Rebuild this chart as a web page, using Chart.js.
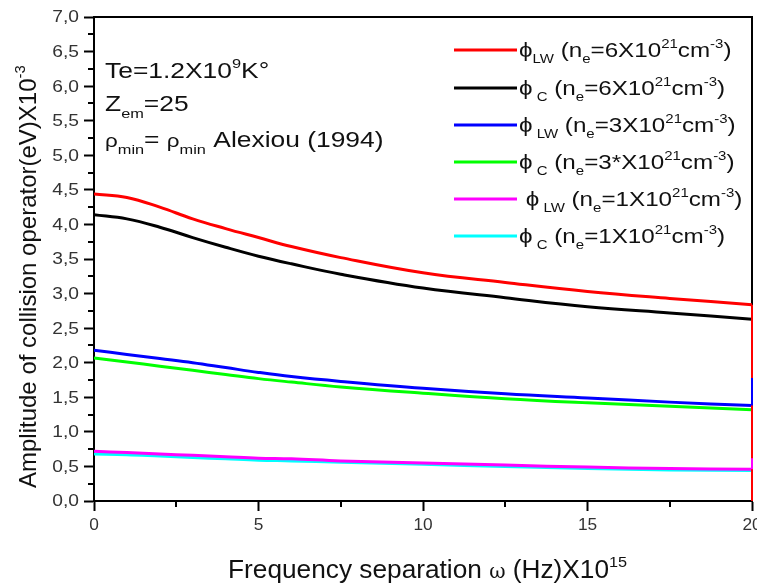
<!DOCTYPE html>
<html>
<head>
<meta charset="utf-8">
<script src="https://cdn.jsdelivr.net/npm/chart.js@4/dist/chart.umd.min.js"></script>
<style>
    html, body { margin: 0; padding: 0; background: #fff; }
    #wrap { width: 757px; height: 588px; }
</style>
</head>
<body>
<div id="wrap"><canvas id="chart" width="757" height="588"></canvas></div>
<script>
// Frequency separation (x10^15 Hz)
const omega = [0, 1, 2, 3, 4, 5, 6, 7.5, 10, 12.5, 15, 17.5, 20];

// Amplitudes (eV x10^-3)
const phiLW6 = [4.44, 4.39, 4.25, 4.08, 3.94, 3.81, 3.68, 3.52, 3.30, 3.16, 3.03, 2.93, 2.84];
const phiC6  = [4.14, 4.08, 3.96, 3.81, 3.67, 3.54, 3.43, 3.28, 3.08, 2.94, 2.81, 2.72, 2.63];
const phiLW3 = [2.18, 2.12, 2.06, 2.00, 1.93, 1.86, 1.80, 1.73, 1.63, 1.55, 1.49, 1.43, 1.38];
const phiC3  = [2.07, 2.01, 1.95, 1.89, 1.83, 1.77, 1.72, 1.65, 1.56, 1.48, 1.42, 1.37, 1.32];
const phiLW1 = [0.72, 0.70, 0.68, 0.66, 0.64, 0.62, 0.61, 0.58, 0.55, 0.52, 0.49, 0.47, 0.46];
const phiC1  = [0.68, 0.67, 0.65, 0.63, 0.61, 0.59, 0.58, 0.56, 0.53, 0.50, 0.47, 0.45, 0.44];

// the last sample at omega = 20 jumps (vertical segment on the right edge)
const edgeValue = [0, null, 1.78, null, 0.62, null];

const seriesColors = ['#ff0000', '#000000', '#0000ff', '#00ff00', '#ff00ff', '#00ffff'];
const yTicks = [0, 0.5, 1, 1.5, 2, 2.5, 3, 3.5, 4, 4.5, 5, 5.5, 6, 6.5, 7];
const xTicks = [0, 5, 10, 15, 20];

const FONT = '"Liberation Sans", Arial, sans-serif';
const TEXT = '#111';

// text runs: [text, 'n' | 'sub' | 'sup', sizeFactor?, font?]
const legendRuns = [
    [['\u03d5', 'n'], ['LW', 'sub'], [' (n', 'n'], ['e', 'sub'], ['=6X10', 'n'], ['21', 'sup'], ['cm', 'n'], ['-3', 'sup'], [')', 'n']],
    [['\u03d5', 'n'], [' C', 'sub'], [' (n', 'n'], ['e', 'sub'], ['=6X10', 'n'], ['21', 'sup'], ['cm', 'n'], ['-3', 'sup'], [')', 'n']],
    [['\u03d5', 'n'], [' LW', 'sub'], [' (n', 'n'], ['e', 'sub'], ['=3X10', 'n'], ['21', 'sup'], ['cm', 'n'], ['-3', 'sup'], [')', 'n']],
    [['\u03d5', 'n'], [' C', 'sub'], [' (n', 'n'], ['e', 'sub'], ['=3*X10', 'n'], ['21', 'sup'], ['cm', 'n'], ['-3', 'sup'], [')', 'n']],
    [[' \u03d5', 'n'], [' LW', 'sub'], [' (n', 'n'], ['e', 'sub'], ['=1X10', 'n'], ['21', 'sup'], ['cm', 'n'], ['-3', 'sup'], [')', 'n']],
    [['\u03d5', 'n'], [' C', 'sub'], [' (n', 'n'], ['e', 'sub'], ['=1X10', 'n'], ['21', 'sup'], ['cm', 'n'], ['-3', 'sup'], [')', 'n']]
];
const seriesLabels = ['phiLW 6e21', 'phiC 6e21', 'phiLW 3e21', 'phiC 3e21', 'phiLW 1e21', 'phiC 1e21'];

const noteRuns = [
    [['Te=1.2X10', 'n'], ['9', 'sup'], ['K\u00b0', 'n']],
    [['Z', 'n'], ['em', 'sub'], ['=25', 'n']],
    [['\u03c1', 'n', 0.85], ['min', 'sub'], ['= ', 'n'], ['\u03c1', 'n', 0.85], ['min', 'sub'], [' Alexiou (1994)', 'n']]
];

/**
 * Draw a run of text with subscripts / superscripts.
 * sx stretches the text horizontally; returns the end x.
 */
function drawRuns(ctx, runs, x, y, size, sx, color) {
    ctx.save();
    ctx.translate(x, y);
    ctx.scale(sx, 1);
    ctx.fillStyle = color;
    ctx.textBaseline = 'alphabetic';
    ctx.textAlign = 'left';
    let cx = 0;
    runs.forEach(r => {
        const mode = r[1];
        let s = size * (r[2] || 1);
        let dy = 0;
        if (mode === 'sub') { s = size * 0.62; dy = size * 0.32; }
        if (mode === 'sup') { s = size * 0.62; dy = -size * 0.45; }
        ctx.font = s + 'px ' + (r[3] || FONT);
        ctx.fillText(r[0], cx, dy);
        cx += ctx.measureText(r[0]).width;
    });
    ctx.restore();
    return x + cx * sx;
}

function drawLabel(ctx, text, x, y, size, sx, align) {
    ctx.save();
    ctx.font = size + 'px ' + FONT;
    const w = ctx.measureText(text).width * sx;
    let left = x;
    if (align === 'right') left = x - w;
    if (align === 'center') left = x - w / 2;
    ctx.translate(left, y);
    ctx.scale(sx, 1);
    ctx.fillStyle = '#333';
    ctx.textBaseline = 'middle';
    ctx.fillText(text, 0, 0);
    ctx.restore();
}

const allValues = [phiLW6, phiC6, phiLW3, phiC3, phiLW1, phiC1];

const datasets = allValues.map((vals, i) => ({
    label: seriesLabels[i],
    data: omega.map((w, k) => ({ x: w, y: vals[k] })),
    borderColor: seriesColors[i],
    borderWidth: 3,
    pointRadius: 0,
    tension: 0.4,
    fill: false
}));

const decorations = {
    id: 'decorations',
    beforeDatasetsDraw(chart) {
        const ctx = chart.ctx;
        const a = chart.chartArea;
        const xs = chart.scales.x, ys = chart.scales.y;
        ctx.save();
        ctx.strokeStyle = '#000';
        ctx.lineWidth = 2;
        // top and right frame
        ctx.beginPath();
        ctx.moveTo(a.left - 1, a.top);
        ctx.lineTo(a.right, a.top);
        ctx.lineTo(a.right, a.bottom);
        ctx.stroke();
        // minor ticks
        ctx.beginPath();
        for (let v = 0.25; v < 7; v += 0.5) {
            const py = Math.round(ys.getPixelForValue(v));
            ctx.moveTo(a.left, py);
            ctx.lineTo(a.left - 6, py);
        }
        for (let v = 2.5; v < 20; v += 5) {
            const px = Math.round(xs.getPixelForValue(v));
            ctx.moveTo(px, a.bottom);
            ctx.lineTo(px, a.bottom + 6);
        }
        ctx.stroke();
        ctx.restore();

        // tick labels
        yTicks.forEach(v => {
            drawLabel(ctx, v.toFixed(1).replace('.', ','), 79, ys.getPixelForValue(v) + 1, 16, 1.2, 'right');
        });
        xTicks.forEach(v => {
            drawLabel(ctx, String(v), xs.getPixelForValue(v), 526, 16, 1.08, 'center');
        });
    },
    afterDatasetsDraw(chart) {
        // vertical jumps of the last sample on the right edge
        const ctx = chart.ctx;
        const xs = chart.scales.x, ys = chart.scales.y;
        const last = omega[omega.length - 1];
        ctx.save();
        ctx.lineWidth = 2;
        allValues.forEach((vals, i) => {
            if (edgeValue[i] === null) return;
            const px = xs.getPixelForValue(last);
            ctx.strokeStyle = seriesColors[i];
            ctx.beginPath();
            ctx.moveTo(px, ys.getPixelForValue(vals[vals.length - 1]));
            ctx.lineTo(px, ys.getPixelForValue(edgeValue[i]));
            ctx.stroke();
        });
        ctx.restore();
    },
    afterDraw(chart) {
        const ctx = chart.ctx;
        // legend
        const rowY = [50, 88, 125, 162, 199, 236];
        rowY.forEach((y, i) => {
            ctx.save();
            ctx.strokeStyle = seriesColors[i];
            ctx.lineWidth = 3;
            ctx.beginPath();
            ctx.moveTo(454, y);
            ctx.lineTo(517, y);
            ctx.stroke();
            ctx.restore();
            drawRuns(ctx, legendRuns[i], 519, y + 7, 20, 1.21, TEXT);
        });
        // annotation block
        const noteY = [78, 111, 147];
        noteRuns.forEach((runs, i) => drawRuns(ctx, runs, 105, noteY[i], 22, 1.2, TEXT));
        // x title
        let x = drawRuns(ctx, [['Frequency separation ', 'n']], 228, 578, 25, 1.05, TEXT);
        x = drawRuns(ctx, [['\u03c9', 'n', 0.8, '"DejaVu Serif", serif']], x, 578, 25, 1.0, TEXT);
        drawRuns(ctx, [[' (Hz)X10', 'n'], ['15', 'sup']], x, 578, 25, 1.05, TEXT);
        // y title
        ctx.save();
        ctx.translate(36, 488);
        ctx.rotate(-Math.PI / 2);
        drawRuns(ctx, [['Amplitude of collision operator(eV)X10', 'n'], ['-3', 'sup']], 0, 0, 24, 1.0, TEXT);
        ctx.restore();
    }
};

const ctx = document.getElementById('chart').getContext('2d');
new Chart(ctx, {
    type: 'line',
    data: { datasets: datasets },
    options: {
        responsive: false,
        animation: false,
        layout: { padding: { top: 17, right: 5, left: 0, bottom: 0 } },
        plugins: {
            legend: { display: false },
            tooltip: { enabled: false }
        },
        scales: {
            x: {
                type: 'linear',
                min: 0,
                max: 20,
                afterBuildTicks: scale => { scale.ticks = xTicks.map(v => ({ value: v })); },
                afterFit: scale => { scale.height = 87; scale.paddingLeft = 0; scale.paddingRight = 0; },
                grid: { drawOnChartArea: false, tickLength: 10, tickWidth: 2, tickColor: '#000' },
                border: { color: '#000', width: 2 },
                ticks: { display: false }
            },
            y: {
                min: 0,
                max: 7,
                afterBuildTicks: scale => { scale.ticks = yTicks.map(v => ({ value: v })); },
                afterFit: scale => { scale.width = 94; scale.paddingTop = 0; scale.paddingBottom = 0; },
                grid: { drawOnChartArea: false, tickLength: 10, tickWidth: 2, tickColor: '#000' },
                border: { color: '#000', width: 2 },
                ticks: { display: false }
            }
        }
    },
    plugins: [decorations]
});
</script>
</body>
</html>
